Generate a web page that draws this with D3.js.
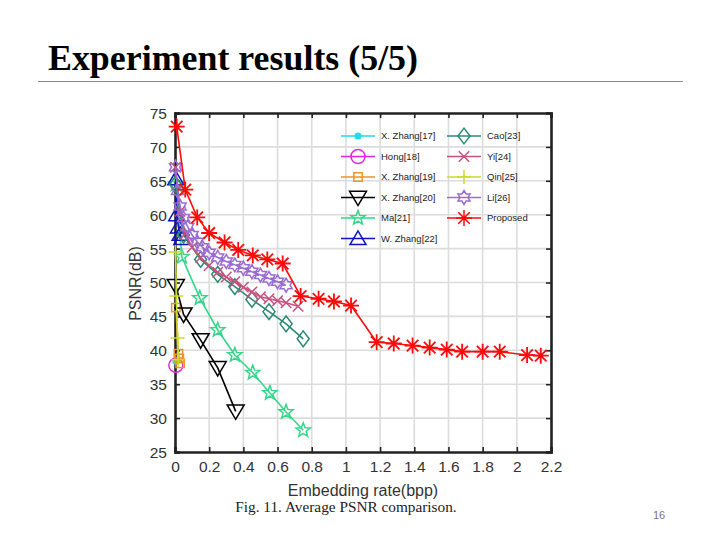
<!DOCTYPE html>
<html><head><meta charset="utf-8">
<script src="https://cdn.jsdelivr.net/npm/d3@7"></script>
<style>body{margin:0;background:#fff}svg{display:block}</style>
</head><body>
<svg id="c" width="720" height="540"></svg>
<script>
const xTicks = [0,0.2,0.4,0.6,0.8,1,1.2,1.4,1.6,1.8,2,2.2];
const yTicks = [25,30,35,40,45,50,55,60,65,70,75];

const zhang17X = [0.005];
const zhang17Y = [38.4];
const hong18X = [0.005];
const hong18Y = [37.8];
const zhang19X = [0.005, 0.02, 0.025, 0.03];
const zhang19Y = [46.3, 39.5, 38.8, 38.1];
const zhang20X = [0.005, 0.05, 0.15, 0.25, 0.355];
const zhang20Y = [49.5, 45.3, 41.5, 37.4, 31.0];
const ma21X = [0.005, 0.04, 0.145, 0.25, 0.35, 0.455, 0.555, 0.65, 0.75];
const ma21Y = [64.5, 53.8, 47.7, 43.0, 39.3, 36.7, 33.7, 30.9, 28.2];
const wzhang22X = [0.005, 0.01, 0.02, 0.03, 0.04];
const wzhang22Y = [65.3, 60.0, 58.2, 57.1, 56.5];
const cao23X = [0.003, 0.05, 0.15, 0.25, 0.35, 0.45, 0.55, 0.65, 0.75];
const cao23Y = [64.5, 57.0, 53.4, 51.2, 49.4, 47.5, 45.7, 43.9, 41.7];
const yi24X = [0.003, 0.03, 0.06, 0.1, 0.15, 0.2, 0.25, 0.3, 0.35, 0.4, 0.45, 0.5, 0.55, 0.6, 0.65, 0.72];
const yi24Y = [67.0, 60.5, 57.2, 55.2, 53.7, 52.5, 51.5, 50.8, 50.1, 49.3, 48.6, 47.9, 47.6, 47.3, 47.0, 46.5];
const qin25X = [0.003, 0.008, 0.015, 0.02];
const qin25Y = [54.5, 48.0, 41.8, 38.6];
const li26X = [0.003, 0.015, 0.03, 0.05, 0.075, 0.1, 0.13, 0.16, 0.2, 0.25, 0.3, 0.35, 0.4, 0.45, 0.5, 0.55, 0.6, 0.65];
const li26Y = [67.0, 63.5, 61.2, 59.5, 58.2, 57.0, 56.0, 55.2, 54.4, 53.7, 53.1, 52.6, 52.1, 51.6, 51.1, 50.6, 50.1, 49.6];
const propX = [0.01, 0.06, 0.13, 0.2, 0.29, 0.37, 0.455, 0.54, 0.63, 0.735, 0.84, 0.93, 1.03, 1.18, 1.28, 1.39, 1.49, 1.59, 1.68, 1.80, 1.90, 2.06, 2.14];
const propY = [73.0, 63.7, 59.6, 57.3, 55.9, 54.8, 54.0, 53.4, 52.8, 48.0, 47.6, 47.2, 46.6, 41.2, 41.0, 40.7, 40.4, 40.1, 39.8, 39.8, 39.8, 39.3, 39.2];

const seriesNames = ["X. Zhang[17]","Hong[18]","X. Zhang[19]","X. Zhang[20]","Ma[21]","W. Zhang[22]","Cao[23]","Yi[24]","Qin[25]","Li[26]","Proposed"];
const seriesColors = ["#22dbe6","#e026e0","#f0912e","#000000","#35d68a","#0c12c4","#2a8a72","#c8507c","#c8dc2a","#9a6cd2","#ff0a0a"];
const seriesMarkers = ["dot","circle","square","tridown","star5","triup","diamond","cross","plus","star6","asterisk"];
const seriesX = [zhang17X,hong18X,zhang19X,zhang20X,ma21X,wzhang22X,cao23X,yi24X,qin25X,li26X,propX];
const seriesY = [zhang17Y,hong18Y,zhang19Y,zhang20Y,ma21Y,wzhang22Y,cao23Y,yi24Y,qin25Y,li26Y,propY];

const svg = d3.select("#c");
const L = 175, R = 551, T = 113, B = 452;
const x = d3.scaleLinear().domain([0,2.2]).range([L,R]);
const y = d3.scaleLinear().domain([25,75]).range([B,T]);

// Slide title
svg.append("text").attr("x",48).attr("y",70)
  .attr("font-family","Liberation Serif, Times New Roman, serif").attr("font-weight","bold")
  .attr("font-size",36).attr("textLength",370).attr("lengthAdjust","spacingAndGlyphs")
  .attr("fill","#000").text("Experiment results (5/5)");
svg.append("line").attr("x1",38).attr("x2",683).attr("y1",81.5).attr("y2",81.5)
  .attr("stroke","#8a8a8a").attr("stroke-width",1.2);

// grid
const g = svg.append("g");
g.selectAll(".gx").data(xTicks.slice(1,-1)).join("line")
  .attr("x1",d=>x(d)).attr("x2",d=>x(d)).attr("y1",T).attr("y2",B)
  .attr("stroke","#dcdcdc").attr("stroke-width",1.6);
g.selectAll(".gy").data(yTicks.slice(1,-1)).join("line")
  .attr("x1",L).attr("x2",R).attr("y1",d=>y(d)).attr("y2",d=>y(d))
  .attr("stroke","#dcdcdc").attr("stroke-width",1.6);

// axes
const font = "Liberation Sans, Arial, sans-serif";
const xa = svg.append("g").attr("transform",`translate(0,${B})`)
  .call(d3.axisBottom(x).tickValues(xTicks).tickSize(-5).tickPadding(9).tickFormat(d3.format("~g")));
const xa2 = svg.append("g").attr("transform",`translate(0,${T})`)
  .call(d3.axisTop(x).tickValues(xTicks).tickSize(-5).tickFormat(""));
const ya = svg.append("g").attr("transform",`translate(${L},0)`)
  .call(d3.axisLeft(y).tickValues(yTicks).tickSize(-5).tickPadding(8));
const ya2 = svg.append("g").attr("transform",`translate(${R},0)`)
  .call(d3.axisRight(y).tickValues(yTicks).tickSize(-5).tickFormat(""));
[xa,xa2,ya,ya2].forEach(a=>{
  a.select(".domain").attr("stroke","#222").attr("stroke-width",2.6);
  a.selectAll(".tick line").attr("stroke","#222").attr("stroke-width",1.6);
  a.selectAll(".tick text").attr("font-family",font).attr("font-size",15.5).attr("fill","#333");
});
ya.selectAll(".tick text").attr("dy","0.35em");

svg.append("text").attr("x",(L+R)/2).attr("y",496).attr("text-anchor","middle")
  .attr("font-family",font).attr("font-size",16).attr("fill","#333").text("Embedding rate(bpp)");
svg.append("text").attr("transform",`translate(141,${(T+B)/2+1}) rotate(-90)`).attr("text-anchor","middle")
  .attr("font-family",font).attr("font-size",16).attr("fill","#333").text("PSNR(dB)");
svg.append("text").attr("x",346).attr("y",512).attr("text-anchor","middle")
  .attr("font-family","Liberation Serif, Times New Roman, serif").attr("font-size",15.3).attr("fill","#222")
  .text("Fig. 11. Average PSNR comparison.");
svg.append("text").attr("x",659).attr("y",519).attr("text-anchor","middle")
  .attr("font-family",font).attr("font-size",11).attr("fill","#777").text("16");

// markers
function markerPath(type, s){
  const p = d3.path();
  if(type==="dot"){ p.arc(0,0,s*0.35,0,2*Math.PI); }
  else if(type==="circle"){ p.moveTo(s,0); p.arc(0,0,s,0,2*Math.PI); }
  else if(type==="square"){ p.rect(-s*0.7,-s*0.7,s*1.4,s*1.4); }
  else if(type==="tridown"){ p.moveTo(-s,-s*0.75); p.lineTo(s,-s*0.75); p.lineTo(0,s*0.95); p.closePath(); }
  else if(type==="triup"){ p.moveTo(-s,s*0.75); p.lineTo(s,s*0.75); p.lineTo(0,-s*0.95); p.closePath(); }
  else if(type==="diamond"){ p.moveTo(0,-s*1.05); p.lineTo(s*0.8,0); p.lineTo(0,s*1.05); p.lineTo(-s*0.8,0); p.closePath(); }
  else if(type==="cross"){ const k=s*0.75; p.moveTo(-k,-k); p.lineTo(k,k); p.moveTo(-k,k); p.lineTo(k,-k); }
  else if(type==="plus"){ p.moveTo(-s,0); p.lineTo(s,0); p.moveTo(0,-s); p.lineTo(0,s); }
  else if(type==="asterisk"){ p.moveTo(-s,0); p.lineTo(s,0); p.moveTo(0,-s); p.lineTo(0,s);
    const k=s*0.72; p.moveTo(-k,-k); p.lineTo(k,k); p.moveTo(-k,k); p.lineTo(k,-k); }
  else if(type==="star5"||type==="star6"){
    const n = type==="star5"?5:6, ri = type==="star5"?s*0.42:s*0.58;
    for(let i=0;i<2*n;i++){ const r = i%2===0?s:ri; const a = -Math.PI/2 + i*Math.PI/n;
      if(i===0) p.moveTo(r*Math.cos(a), r*Math.sin(a)); else p.lineTo(r*Math.cos(a), r*Math.sin(a)); }
    p.closePath();
  }
  return p.toString();
}
const sizes = {dot:8,circle:7,square:6,tridown:8.5,triup:8,star5:7.5,diamond:7.5,cross:7,plus:7,star6:7,asterisk:8};

const line = d3.line().x(d=>x(d[0])).y(d=>y(d[1]));
const plot = svg.append("g");
seriesNames.forEach((name,i)=>{
  const pts = seriesX[i].map((v,j)=>[v, seriesY[i][j]]);
  const sg = plot.append("g");
  sg.append("path").attr("d",line(pts)).attr("fill","none")
    .attr("stroke",seriesColors[i]).attr("stroke-width",1.6);
  sg.selectAll("path.m").data(pts).join("path").attr("class","m")
    .attr("transform",d=>`translate(${x(d[0])},${y(d[1])})`)
    .attr("d",markerPath(seriesMarkers[i], sizes[seriesMarkers[i]]))
    .attr("fill", seriesMarkers[i]==="dot"?seriesColors[i]:"none")
    .attr("stroke",seriesColors[i]).attr("stroke-width",seriesMarkers[i]==="asterisk"?1.8:1.5);
});

// legend (no box)
const leg = svg.append("g");
seriesNames.forEach((name,i)=>{
  const col = i<6?0:1, row = i<6?i:i-6;
  const lx = col===0?341:447, ly = 136 + row*20.5;
  const tx = col===0?381:487;
  leg.append("line").attr("x1",lx).attr("x2",lx+34).attr("y1",ly).attr("y2",ly)
    .attr("stroke",seriesColors[i]).attr("stroke-width",1.6);
  const mk = seriesMarkers[i];
  leg.append("path").attr("transform",`translate(${lx+17},${ly})`)
    .attr("d",markerPath(mk, sizes[mk]))
    .attr("fill", mk==="dot"?seriesColors[i]:"none")
    .attr("stroke",seriesColors[i]).attr("stroke-width",1.5);
  leg.append("text").attr("x",tx).attr("y",ly).attr("dy","0.35em")
    .attr("font-family",font).attr("font-size",9.5).attr("fill","#222").text(name);
});
</script>
</body></html>
